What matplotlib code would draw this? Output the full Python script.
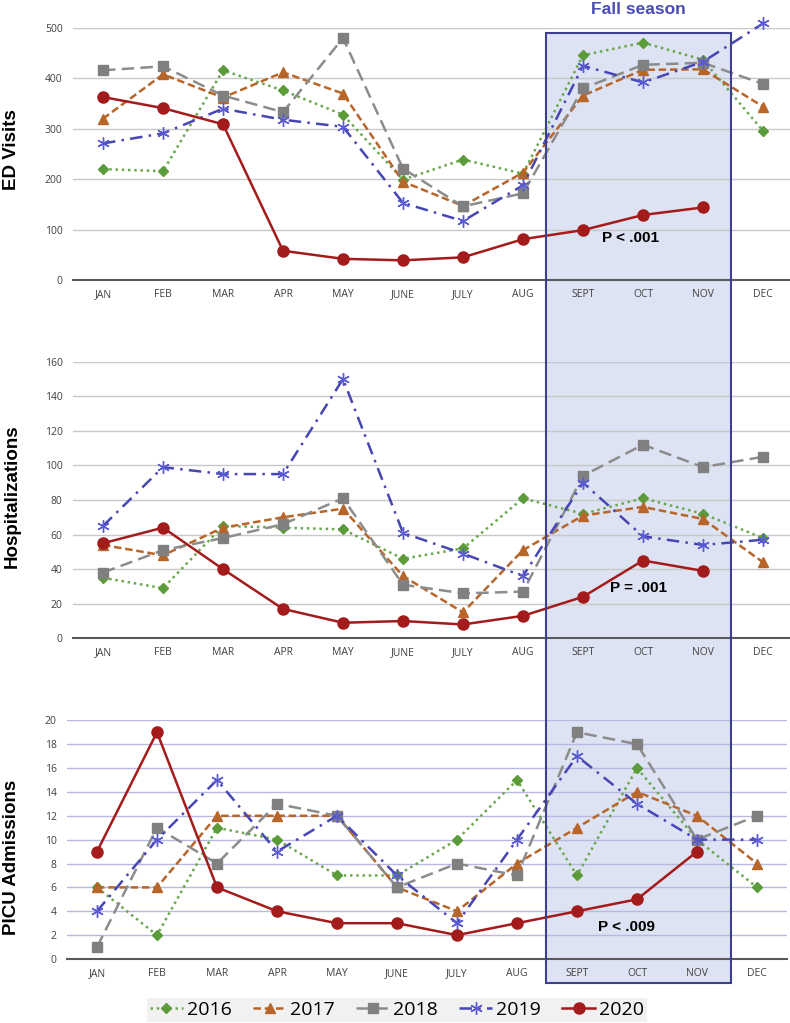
import numpy as np
import matplotlib.pyplot as plt
from matplotlib.patches import Rectangle

months = ['JAN', 'FEB', 'MAR', 'APR', 'MAY', 'JUNE', 'JULY', 'AUG', 'SEPT', 'OCT', 'NOV', 'DEC']
years = ['2016', '2017', '2018', '2019', '2020']

ed_2016 = [220, 216, 416, 376, 328, 199, 239, 211, 446, 471, 437, 296]
ed_2017 = [320, 408, 362, 412, 370, 195, 147, 213, 366, 417, 418, 344]
ed_2018 = [416, 424, 366, 333, 480, 221, 146, 172, 380, 427, 431, 389]
ed_2019 = [271, 291, 340, 318, 304, 153, 117, 188, 425, 392, 433, 509]
ed_2020 = [363, 341, 309, 58, 42, 39, 45, 81, 99, 129, 144]

hosp_2016 = [35, 29, 65, 64, 63, 46, 52, 81, 72, 81, 72, 58]
hosp_2017 = [54, 48, 64, 70, 75, 36, 15, 51, 71, 76, 69, 44]
hosp_2018 = [38, 51, 58, 66, 81, 31, 26, 27, 94, 112, 99, 105]
hosp_2019 = [65, 99, 95, 95, 150, 61, 49, 36, 90, 59, 54, 57]
hosp_2020 = [55, 64, 40, 17, 9, 10, 8, 13, 24, 45, 39]

picu_2016 = [6, 2, 11, 10, 7, 7, 10, 15, 7, 16, 10, 6]
picu_2017 = [6, 6, 12, 12, 12, 6, 4, 8, 11, 14, 12, 8]
picu_2018 = [1, 11, 8, 13, 12, 6, 8, 7, 19, 18, 10, 12]
picu_2019 = [4, 10, 15, 9, 12, 7, 3, 10, 17, 13, 10, 10]
picu_2020 = [9, 19, 6, 4, 3, 3, 2, 3, 4, 5, 9]

styles = {
    '2016': dict(color='#6aa84f', ls=(0, (1, 1.5)), marker='D', ms=5.5, mfc='#5b9b3a', mec='#5b9b3a', lw=1.8),
    '2017': dict(color='#b8652a', ls=(0, (3, 1.5)), marker='^', ms=7.5, mfc='#b8652a', mec='#b8652a', lw=1.8),
    '2018': dict(color='#8c8c8c', ls=(0, (5, 2.5)), marker='s', ms=7.5, mfc='#808080', mec='#808080', lw=1.8),
    '2019': dict(color='#4646b4', ls=(0, (5, 2.5, 1, 2.5)), marker=(6, 2, 0), ms=9, mfc='#5a5ad2', mec='#5a5ad2', mew=1.0, lw=1.8),
    '2020': dict(color='#a31b1b', ls='-', marker='o', ms=8, mfc='#a31b1b', mec='#a31b1b', lw=1.8),
}

plt.rcParams['font.family'] = ['Liberation Sans', 'DejaVu Sans']

fig = plt.figure(figsize=(7.9, 10.23), dpi=100)

panels = [
    dict(rect=[73 / 790, 1 - 280 / 1023, 720 / 790, 252 / 1023], data=[ed_2016, ed_2017, ed_2018, ed_2019, ed_2020],
         ymax=500, step=100, label='ED Visits', ylab=150, grid='#c8c8c8', p='P < .001', px=630, py=238),
    dict(rect=[73 / 790, 1 - 638.3 / 1023, 720 / 790, 276.6 / 1023], data=[hosp_2016, hosp_2017, hosp_2018, hosp_2019, hosp_2020],
         ymax=160, step=20, label='Hospitalizations', ylab=496, grid='#c8c8c8', p='P = .001', px=639, py=588),
    dict(rect=[67 / 790, 1 - 959 / 1023, 720 / 790, 238.7 / 1023], data=[picu_2016, picu_2017, picu_2018, picu_2019, picu_2020],
         ymax=20, step=2, label='PICU Admissions', ylab=857, grid='#b8b8e2', p='P < .009', px=627, py=927),
]

# fall season box behind the axes
fig.patches.append(Rectangle((546 / 790, 1 - 983 / 1023), 185 / 790, 950 / 1023, transform=fig.transFigure,
                             facecolor='#dde3f3', edgecolor='none', zorder=-5))
fig.patches.append(Rectangle((546 / 790, 1 - 983 / 1023), 185 / 790, 950 / 1023, transform=fig.transFigure,
                             facecolor='none', edgecolor='#3d3f8f', lw=1.5, zorder=5))
fig.text(638 / 790, 1 - 9 / 1023, 'Fall season', ha='center', va='center', fontsize=12.5,
         fontweight='bold', color='#4a4db3')

x = np.arange(len(months))
for p in panels:
    ax = fig.add_axes(p['rect'])
    ax.patch.set_alpha(0)
    for yr, vals in zip(years, p['data']):
        ax.plot(x[:len(vals)], vals, label=yr, clip_on=False, zorder=3, **styles[yr])
    ax.set_xlim(-0.5, 11.5)
    ax.set_ylim(0, p['ymax'])
    ax.set_yticks(np.arange(0, p['ymax'] + 1, p['step']))
    ax.set_xticks(x)
    ax.set_xticklabels(months)
    ax.yaxis.grid(True, color=p['grid'], lw=1)
    ax.set_axisbelow(True)
    for s in ['top', 'right', 'left']:
        ax.spines[s].set_visible(False)
    ax.spines['bottom'].set_color('#595959')
    ax.spines['bottom'].set_linewidth(1.5)
    ax.tick_params(length=0, labelsize=7.5, labelcolor='#404040', pad=6.5)
    ax.tick_params(axis='y', pad=7.5)
    for t in ax.get_xticklabels() + ax.get_yticklabels():
        t.set_family(['Open Sans', 'DejaVu Sans'])
    fig.text(12 / 790, 1 - p['ylab'] / 1023, p['label'], rotation=90, ha='center', va='center',
             fontsize=13.5, fontweight='bold')
    fig.text(p['px'] / 790, 1 - p['py'] / 1023, p['p'], ha='center', va='center',
             fontsize=11, fontweight='bold', zorder=6)

handles, labels = ax.get_legend_handles_labels()
leg = fig.legend(handles, labels, loc='center', bbox_to_anchor=(397 / 790, 1 - 1010 / 1023), ncol=5,
                 frameon=True, fancybox=False, fontsize=14, handlelength=1.7, columnspacing=1.1,
                 handletextpad=0.2, borderpad=0.15, borderaxespad=0)
leg.get_frame().set_facecolor('#eeeeee')
leg.get_frame().set_edgecolor('none')
for t in leg.get_texts():
    t.set_family(['Open Sans', 'DejaVu Sans'])

fig.savefig('out.png', dpi=100)
